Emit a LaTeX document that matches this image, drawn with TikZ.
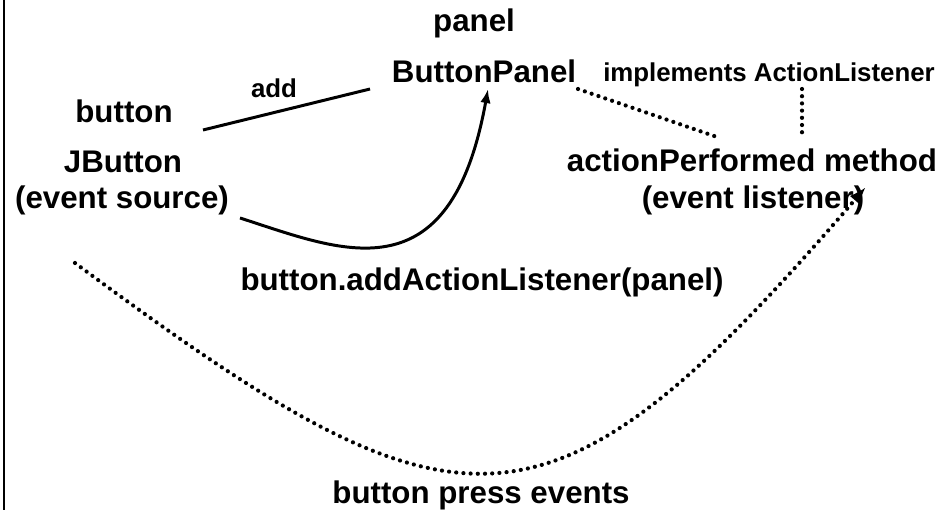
\documentclass[tikz,border=0pt]{standalone}
\usepackage{fontspec}
\setmainfont{Liberation Sans}
\usetikzlibrary{arrows.meta}

\tikzset{
  bigtxt/.style={font=\fontsize{17.8}{21}\selectfont\bfseries, anchor=base, inner sep=0pt},
  smalltxt/.style={font=\fontsize{14.7}{18}\selectfont\bfseries, anchor=base, inner sep=0pt},
  dotline/.style={line width=2.4pt, line cap=round, dash pattern=on 0pt off 4.1pt},
  solidline/.style={line width=1.7pt},
  tip/.style={-{Latex[length=8pt,width=6pt]}},
  dottip/.style={-{Latex[length=9pt,width=7pt,line width=0pt]}}
}

\begin{document}
\begin{tikzpicture}[x=0.02cm, y=-0.02cm]
        \useasboundingbox (0,0) rectangle (945,510);
        \draw [line width=1.2pt] (4,0) -- (4,510);

        % the panel and its interface
        \node [bigtxt] (panel) at (474,32) {panel};
        \node [bigtxt] (bpanel) at (484,83) {ButtonPanel};
        \node [smalltxt] (impl) at (769,82) {implements ActionListener};
        \node [bigtxt] (perf) at (752,171) {actionPerformed method};
        \node [bigtxt] (listener) at (753,208) {(event listener)};

        % the button
        \node [bigtxt] (button) at (124,122) {button};
        \node [bigtxt] (jbutton) at (123,172) {JButton};
        \node [bigtxt] (source) at (122,208) {(event source)};

        \node [smalltxt] (add) at (274,97) {add};
        \node [bigtxt] (register) at (482,290) {button.addActionListener(panel)};
        \node [bigtxt] (events) at (481,503) {button press events};

        % add the button to the panel
        \coordinate (addA) at (203,130);
        \coordinate (addB) at (370,89);
        \draw [solidline] (addA) -- (addB);

        % register the listener
        \coordinate (regA) at (240,218);
        \coordinate (regB) at (488,89);
        \draw [solidline, tip] (regA) .. controls (340,250) and (450,300) .. (regB);

        % panel implements the method
        \coordinate (implA) at (578,89);
        \coordinate (implB) at (717,137);
        \draw [dotline] (implA) -- (implB);
        \coordinate (ifaceA) at (802,89);
        \coordinate (ifaceB) at (802,133);
        \draw [dotline] (ifaceA) -- (ifaceB);

        % events go from source to listener
        \coordinate (evA) at (75,263);
        \coordinate (evB) at (865,188);
        \draw [dotline, dottip] (evA) .. controls (460,548) and (545,560) .. (evB);
\end{tikzpicture}
\end{document}
